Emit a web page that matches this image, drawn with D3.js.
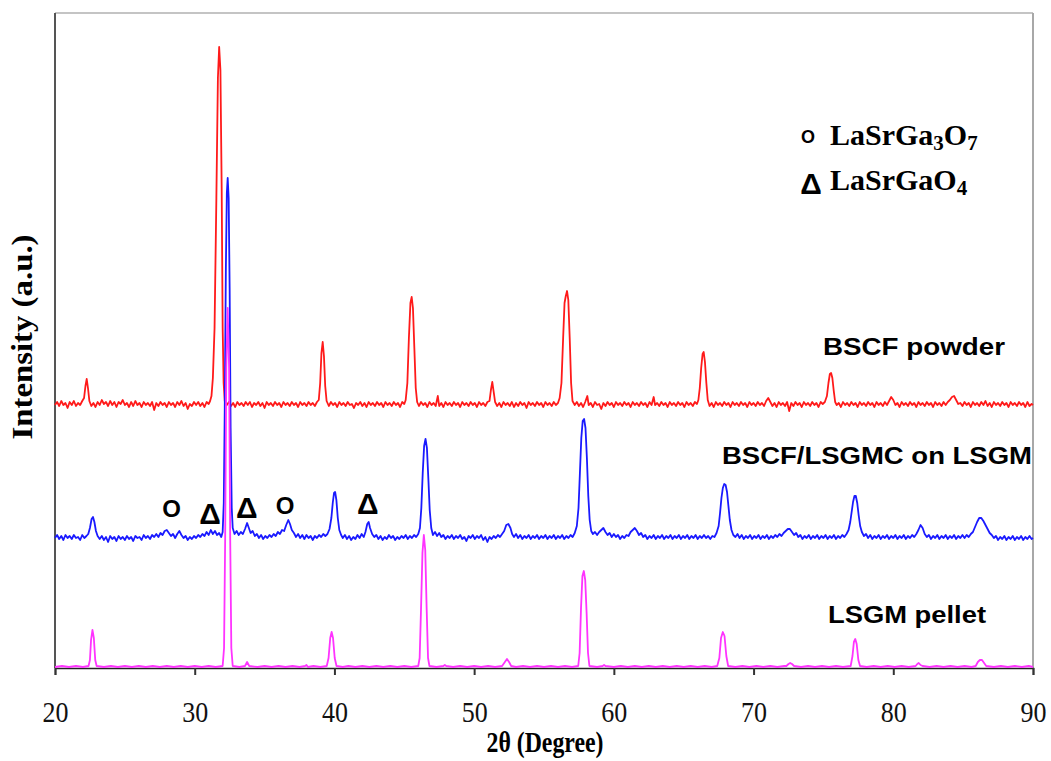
<!DOCTYPE html>
<html>
<head>
<meta charset="utf-8">
<script src="https://cdn.jsdelivr.net/npm/d3@7"></script>
<style>
  body { margin: 0; background: #fff; }
  svg { display: block; }
</style>
</head>
<body>
<svg id="chart" width="1051" height="761"></svg>
<script>
// ---------------- DATA (2θ in degrees, intensity in arbitrary units, offset traces) ----------------
const xTicks = [20, 30, 40, 50, 60, 70, 80, 90];
const xTitle = "2θ (Degree)";
const yTitle = "Intensity (a.u.)";
const seriesNames = ["BSCF powder", "BSCF/LSGMC on LSGM", "LSGM pellet"];

// BSCF powder (top trace)
const bscfPowder = [
[20.0,263],[20.15,266],[20.3,262],[20.45,267],[20.6,263],[20.75,265],[20.9,260],[21.05,266],[21.2,263],[21.35,267],[21.5,262],[21.65,265],[21.8,263],[21.95,267],
[22.08,270],[22.18,282],[22.27,289],[22.36,280],[22.46,267],
[22.6,262],[22.75,265],[22.9,261],[23.05,266],[23.2,263],[23.35,268],[23.5,264],[23.65,266],[23.8,262],[23.95,267],[24.1,263],[24.25,266],[24.4,261],[24.55,266],[24.7,264],[24.85,268],[25.0,263],[25.15,265],[25.3,261],[25.45,266],[25.6,262],[25.75,267],[25.9,263],[26.05,265],[26.2,261],[26.35,266],[26.5,263],[26.65,265],[26.8,262],[26.95,266],[27.1,258],[27.25,265],[27.4,262],[27.55,266],[27.7,263],[27.85,265],[28.0,261],[28.15,266],[28.3,263],[28.45,265],[28.6,261],[28.75,266],[28.9,263],[29.05,267],[29.2,262],[29.35,265],[29.5,259],[29.65,264],[29.8,262],[29.95,266],[30.1,263],[30.25,266],[30.4,262],[30.55,265],[30.7,261],[30.85,266],[31.0,264],[31.1,267],
[31.2,272],[31.3,290],[31.42,340],[31.55,470],[31.66,590],[31.75,621],[31.84,598],[31.93,480],[32.0,340],[32.07,285],[32.15,267],
[32.3,263],[32.45,266],[32.6,262],[32.75,265],[32.9,261],[33.05,266],[33.2,263],[33.35,265],[33.5,262],[33.65,266],[33.8,263],[33.95,266],[34.1,261],[34.25,265],[34.4,263],[34.55,266],[34.7,262],[34.85,265],[35.0,260],[35.15,266],[35.3,263],[35.45,265],[35.6,262],[35.75,266],[35.9,263],[36.05,265],[36.2,261],[36.35,266],[36.5,263],[36.65,265],[36.8,262],[36.95,266],[37.1,263],[37.25,265],[37.4,261],[37.55,266],[37.7,263],[37.85,265],[38.0,262],[38.15,266],[38.3,263],[38.45,265],[38.6,262],[38.75,266],
[38.88,268],[38.98,285],[39.07,315],[39.16,326],[39.25,312],[39.34,282],[39.44,267],
[39.6,262],[39.75,266],[39.9,263],[40.05,265],[40.2,261],[40.35,266],[40.5,263],[40.65,265],[40.8,262],[40.95,266],[41.1,263],[41.25,264],[41.4,260],[41.55,265],[41.7,263],[41.85,266],[42.0,262],[42.15,265],[42.3,261],[42.45,266],[42.6,263],[42.75,265],[42.9,262],[43.05,266],[43.2,263],[43.35,265],[43.5,261],[43.65,266],[43.8,263],[43.95,265],[44.1,262],[44.25,266],[44.4,263],[44.55,265],[44.7,261],[44.85,266],[45.0,264],[45.1,268],
[45.22,285],[45.33,330],[45.44,365],[45.53,371],[45.62,360],[45.72,320],[45.82,280],[45.92,266],
[46.05,262],[46.2,266],[46.35,263],[46.5,265],[46.65,261],[46.8,266],[46.95,263],[47.1,265],[47.25,262],[47.4,272],[47.5,262],[47.65,265],[47.8,261],[47.95,266],[48.1,263],[48.25,265],[48.4,262],[48.55,266],[48.7,263],[48.85,265],[49.0,261],[49.15,266],[49.3,263],[49.45,265],[49.6,262],[49.75,266],[49.9,263],[50.05,265],[50.2,261],[50.35,266],[50.5,263],[50.65,265],[50.8,262],[50.95,266],
[51.1,267],[51.2,278],[51.3,286],[51.4,276],[51.5,266],
[51.65,262],[51.8,265],[51.95,261],[52.1,266],[52.25,263],[52.4,265],[52.55,262],[52.7,266],[52.85,261],[53.0,265],[53.15,262],[53.3,266],[53.45,263],[53.6,265],[53.75,260],[53.9,266],[54.05,263],[54.2,265],[54.35,262],[54.5,266],[54.65,263],[54.8,265],[54.95,261],[55.1,266],[55.25,263],[55.4,265],[55.55,262],[55.7,266],[55.85,263],[56.0,265],[56.12,270],
[56.25,285],[56.37,330],[56.47,365],[56.56,372],[56.65,377],[56.74,368],[56.84,330],[56.94,285],[57.04,267],
[57.2,263],[57.35,266],[57.5,262],[57.65,265],[57.8,261],[57.95,266],[58.1,272],[58.2,263],[58.35,265],[58.5,261],[58.65,266],[58.8,263],[58.95,264],[59.1,259],[59.25,265],[59.4,262],[59.55,266],[59.7,263],[59.85,265],[60.0,261],[60.15,266],[60.3,263],[60.45,265],[60.6,262],[60.75,266],[60.9,263],[61.05,265],[61.2,261],[61.35,266],[61.5,263],[61.65,265],[61.8,262],[61.95,266],[62.1,263],[62.25,265],[62.4,261],[62.55,266],[62.7,263],[62.85,271],[62.95,263],[63.1,265],[63.25,262],[63.4,266],[63.55,263],[63.7,265],[63.85,261],[64.0,266],[64.15,263],[64.3,265],[64.45,262],[64.6,266],[64.75,263],[64.9,265],[65.05,261],[65.2,266],[65.35,263],[65.5,265],[65.65,262],[65.8,266],[65.95,264],[66.05,268],
[66.15,280],[66.25,300],[66.35,314],[66.43,316],[66.52,306],[66.62,285],[66.72,268],
[66.85,262],[67.0,265],[67.15,261],[67.3,266],[67.45,263],[67.6,265],[67.75,262],[67.9,266],[68.05,263],[68.2,265],[68.35,261],[68.5,266],[68.65,263],[68.8,265],[68.95,262],[69.1,266],[69.25,263],[69.4,265],[69.55,261],[69.7,266],[69.85,263],[70.0,265],[70.15,262],[70.3,266],[70.45,263],[70.6,265],[70.75,262],[70.9,267],[71.05,270],[71.2,266],[71.35,262],[71.5,265],[71.65,261],[71.8,266],[71.95,263],[72.1,265],[72.25,262],[72.4,266],[72.55,257],[72.7,265],[72.85,262],[73.0,266],[73.15,263],[73.3,265],[73.45,261],[73.6,266],[73.75,263],[73.9,265],[74.05,262],[74.2,266],[74.35,263],[74.5,265],[74.65,261],[74.8,266],[74.95,264],[75.1,266],
[75.25,272],[75.36,285],[75.46,294],[75.55,295],[75.64,290],[75.74,277],[75.84,266],
[75.95,263],[76.1,265],[76.25,261],[76.4,266],[76.55,263],[76.7,265],[76.85,262],[77.0,266],[77.15,263],[77.3,265],[77.45,261],[77.6,266],[77.75,263],[77.9,265],[78.05,262],[78.2,266],[78.35,263],[78.5,265],[78.65,261],[78.8,266],[78.95,263],[79.1,265],[79.25,262],[79.4,266],[79.55,263],[79.7,267],[79.85,271],[80.0,268],[80.15,263],[80.3,265],[80.45,261],[80.6,266],[80.75,263],[80.9,265],[81.05,262],[81.2,266],[81.35,263],[81.5,265],[81.65,261],[81.8,266],[81.95,263],[82.1,265],[82.25,262],[82.4,266],[82.55,263],[82.7,265],[82.85,261],[83.0,266],[83.15,263],[83.3,265],[83.45,262],[83.6,266],[83.75,263],[83.9,266],[84.05,268],[84.2,271],[84.35,272],[84.5,268],[84.65,264],[84.8,265],[84.95,262],[85.1,266],[85.25,263],[85.4,265],[85.55,261],[85.7,266],[85.85,263],[86.0,265],[86.15,262],[86.3,266],[86.45,263],[86.6,267],[86.75,262],[86.9,265],[87.05,261],[87.2,266],[87.35,263],[87.5,265],[87.65,262],[87.8,266],[87.95,263],[88.1,265],[88.25,261],[88.4,266],[88.55,263],[88.7,265],[88.85,262],[89.0,266],[89.15,263],[89.3,265],[89.45,261],[89.6,266],[89.75,262],[89.9,264],[90.0,263]
];

// BSCF/LSGMC on LSGM (middle trace)
const bscfOnLsgm = [
[20.0,130],[20.15,133],[20.3,129],[20.45,132],[20.6,128],[20.75,133],[20.9,130],[21.05,132],[21.2,129],[21.35,133],[21.5,130],[21.65,131],[21.8,128],[21.95,133],[22.1,130],[22.25,132],[22.38,134],
[22.5,140],[22.62,149],[22.72,151],[22.82,146],[22.93,137],[23.05,132],
[23.2,129],[23.35,132],[23.5,128],[23.65,131],[23.8,126],[23.95,132],[24.1,129],[24.25,131],[24.4,127],[24.55,132],[24.7,129],[24.85,131],[25.0,128],[25.15,132],[25.3,129],[25.45,131],[25.6,127],[25.75,132],[25.9,130],[26.05,131],[26.2,128],[26.35,133],[26.5,130],[26.65,132],[26.8,129],[26.95,133],[27.1,131],[27.25,134],[27.4,131],[27.55,135],[27.7,133],[27.85,137],[28.0,138],[28.15,135],[28.3,132],[28.45,134],[28.6,130],[28.75,134],[28.9,137],[29.05,133],[29.2,130],[29.35,132],[29.5,128],[29.65,131],[29.8,129],[29.95,132],[30.1,130],[30.25,133],[30.4,131],[30.55,134],[30.7,132],[30.85,136],[31.0,133],[31.15,138],[31.3,134],[31.45,137],[31.6,133],[31.75,135],[31.9,131],[32.0,136],
[32.08,165],[32.15,260],[32.23,400],[32.3,475],[32.36,490],[32.43,470],[32.5,380],[32.57,240],[32.65,160],[32.72,140],
[32.85,134],[33.0,137],[33.15,133],[33.3,136],[33.45,134],[33.6,139],[33.75,145],[33.85,141],[34.0,135],[34.15,137],[34.3,132],[34.45,134],[34.6,130],[34.75,133],[34.9,129],[35.05,132],[35.2,130],[35.35,133],[35.5,131],[35.65,134],[35.8,132],[35.95,136],[36.1,134],[36.25,138],[36.4,137],[36.55,143],[36.7,148],[36.82,144],[36.95,138],[37.1,135],[37.25,131],[37.4,134],[37.55,130],[37.7,133],[37.85,129],[38.0,133],[38.15,130],[38.3,132],[38.45,128],[38.6,132],[38.75,130],[38.9,133],[39.05,131],[39.2,134],[39.35,132],[39.5,134],[39.65,139],
[39.78,150],[39.88,165],[39.97,175],[40.05,176],[40.14,168],[40.24,150],[40.35,138],[40.48,133],
[40.6,130],[40.75,133],[40.9,129],[41.05,132],[41.2,128],[41.35,131],[41.5,129],[41.65,133],[41.8,130],[41.95,134],[42.1,131],[42.22,136],[42.35,144],[42.45,146],[42.55,140],[42.7,134],[42.85,131],[43.0,133],[43.15,129],[43.3,132],[43.45,128],[43.6,131],[43.75,129],[43.9,133],[44.05,130],[44.2,132],[44.35,128],[44.5,131],[44.65,129],[44.8,132],[44.95,130],[45.1,133],[45.25,129],[45.4,132],[45.55,130],[45.7,133],[45.85,131],[46.0,134],[46.12,140],
[46.22,160],[46.32,195],[46.42,222],[46.52,229],[46.62,220],[46.72,190],[46.82,158],[46.93,140],[47.05,133],
[47.2,136],[47.35,132],[47.5,135],[47.65,131],[47.8,133],[47.95,129],[48.1,132],[48.25,130],[48.4,133],[48.55,129],[48.7,132],[48.85,130],[49.0,133],[49.15,129],[49.3,131],[49.45,127],[49.6,132],[49.75,130],[49.9,133],[50.05,129],[50.2,132],[50.35,130],[50.5,133],[50.65,128],[50.8,131],[50.95,126],[51.1,131],[51.25,129],[51.4,132],[51.55,130],[51.7,133],[51.85,131],[52.0,134],[52.15,137],[52.3,143],[52.45,144],[52.6,140],[52.72,134],[52.85,131],[53.0,134],[53.15,130],[53.3,133],[53.45,129],[53.6,132],[53.75,130],[53.9,133],[54.05,129],[54.2,132],[54.35,130],[54.5,133],[54.65,129],[54.8,132],[54.95,130],[55.1,133],[55.25,129],[55.4,132],[55.55,130],[55.7,133],[55.85,129],[56.0,132],[56.15,130],[56.3,133],[56.45,129],[56.6,132],[56.75,130],[56.9,133],[57.05,131],[57.2,135],[57.35,142],
[57.47,160],[57.57,195],[57.67,230],[57.77,247],[57.87,249],[57.97,240],[58.07,210],[58.17,172],[58.27,148],[58.38,137],
[58.5,134],[58.65,136],[58.8,133],[58.95,136],[59.1,138],[59.25,140],[59.4,136],[59.55,133],[59.7,135],[59.85,131],[60.0,134],[60.15,131],[60.3,133],[60.45,129],[60.6,132],[60.75,130],[60.9,133],[61.05,132],[61.2,136],[61.35,138],[61.5,140],[61.65,137],[61.8,133],[61.95,135],[62.1,131],[62.25,133],[62.4,129],[62.55,132],[62.7,130],[62.85,133],[63.0,129],[63.15,132],[63.3,130],[63.45,133],[63.6,129],[63.75,132],[63.9,130],[64.05,133],[64.2,129],[64.35,132],[64.5,130],[64.65,133],[64.8,129],[64.95,132],[65.1,130],[65.25,133],[65.4,129],[65.55,132],[65.7,130],[65.85,133],[66.0,129],[66.15,132],[66.3,130],[66.45,133],[66.6,130],[66.75,132],[66.9,129],[67.05,132],[67.2,131],[67.35,135],[67.5,142],
[67.6,155],[67.7,170],[67.8,180],[67.9,184],[68.0,183],[68.1,176],[68.2,162],[68.3,148],[68.42,138],[68.55,133],
[68.7,131],[68.85,134],[69.0,130],[69.15,133],[69.3,129],[69.45,132],[69.6,130],[69.75,133],[69.9,129],[70.05,132],[70.2,130],[70.35,133],[70.5,129],[70.65,132],[70.8,130],[70.95,133],[71.1,129],[71.25,132],[71.4,130],[71.55,133],[71.7,131],[71.85,134],[72.0,132],[72.15,135],[72.3,137],[72.45,139],[72.6,139],[72.75,136],[72.9,133],[73.05,135],[73.2,131],[73.35,133],[73.5,129],[73.65,132],[73.8,130],[73.95,133],[74.1,129],[74.25,132],[74.4,130],[74.55,133],[74.7,129],[74.85,132],[75.0,130],[75.15,133],[75.3,129],[75.45,132],[75.6,130],[75.75,133],[75.9,129],[76.05,132],[76.2,130],[76.35,133],[76.5,131],[76.65,134],[76.8,138],[76.92,146],
[77.02,156],[77.12,166],[77.22,172],[77.32,172],[77.42,165],[77.52,153],[77.63,142],[77.75,136],
[77.9,132],[78.05,134],[78.2,130],[78.35,133],[78.5,129],[78.65,132],[78.8,130],[78.95,133],[79.1,129],[79.25,132],[79.4,130],[79.55,133],[79.7,129],[79.85,132],[80.0,130],[80.15,133],[80.3,129],[80.45,132],[80.6,130],[80.75,133],[80.9,129],[81.05,132],[81.2,130],[81.35,133],[81.5,131],[81.65,134],[81.8,138],[81.95,143],[82.1,140],[82.25,134],[82.4,131],[82.55,133],[82.7,129],[82.85,132],[83.0,130],[83.15,133],[83.3,129],[83.45,132],[83.6,130],[83.75,133],[83.9,129],[84.05,132],[84.2,130],[84.35,133],[84.5,129],[84.65,132],[84.8,130],[84.95,133],[85.1,130],[85.25,133],[85.4,131],[85.55,134],[85.7,136],[85.85,141],[86.0,146],[86.15,150],[86.3,150],[86.45,147],[86.6,143],[86.75,139],[86.9,135],[87.05,133],[87.2,130],[87.35,132],[87.5,128],[87.65,131],[87.8,129],[87.95,132],[88.1,128],[88.25,131],[88.4,129],[88.55,132],[88.7,128],[88.85,131],[89.0,129],[89.15,132],[89.3,128],[89.45,131],[89.6,129],[89.75,132],[89.9,129],[90.0,130]
];

// LSGM pellet (bottom trace)
const lsgmPellet = [
[20.0,1],[20.5,2],[21.0,1],[21.5,2],[22.0,1],[22.4,2],[22.5,8],[22.58,28],[22.68,38],[22.78,30],[22.88,8],[22.98,2],[23.5,1],[24.0,2],[24.5,1],[25.0,2],[25.5,1],[26.0,2],[26.5,1],[27.0,2],[27.5,1],[28.0,2],[28.5,1],[29.0,2],[29.5,1],[30.0,2],[30.5,1],[31.0,2],[31.5,1],[32.0,2],
[32.1,20],[32.18,130],[32.26,300],[32.36,360],[32.46,300],[32.54,130],[32.62,20],[32.72,2],
[33.2,1],[33.6,2],[33.75,6],[33.9,2],[34.5,1],[35.0,2],[35.5,1],[36.0,2],[36.5,1],[37.0,2],[37.5,1],[37.9,2],[38.0,3],[38.1,1],[38.5,2],[39.0,1],[39.45,2],[39.58,10],[39.7,30],[39.8,36],[39.9,30],[40.02,10],[40.15,2],[40.6,1],[41.0,2],[41.5,1],[42.0,2],[42.5,1],[43.0,2],[43.5,1],[44.0,2],[44.5,1],[45.0,2],[45.5,1],[46.0,2],
[46.1,10],[46.2,60],[46.3,115],[46.4,133],[46.5,118],[46.6,60],[46.7,10],[46.8,2],
[47.3,1],[47.8,2],[47.9,3],[48.0,2],[48.5,1],[49.0,2],[49.5,1],[50.0,2],[50.5,1],[51.0,2],[51.5,1],[52.0,2],[52.2,6],[52.35,9],[52.5,6],[52.65,2],[53.0,1],[53.5,2],[54.0,1],[54.5,2],[55.0,1],[55.5,2],[56.0,1],[56.5,2],[57.0,1],[57.45,2],
[57.55,15],[57.65,60],[57.75,92],[57.85,97],[57.95,88],[58.05,55],[58.15,15],[58.25,2],
[58.8,1],[59.2,2],[59.3,3],[59.4,2],[60.0,1],[60.5,2],[61.0,1],[61.5,2],[62.0,1],[62.5,2],[63.0,1],[63.5,2],[64.0,1],[64.5,2],[65.0,1],[65.5,2],[66.0,1],[66.5,2],[67.0,1],[67.4,2],
[67.55,10],[67.67,30],[67.8,36],[67.92,32],[68.05,12],[68.18,2],
[68.7,1],[69.2,2],[69.7,1],[70.2,2],[70.7,1],[71.2,2],[71.7,1],[72.2,2],[72.35,2],[72.5,4],[72.62,5],[72.75,4],[72.9,2],[73.4,1],[73.9,2],[74.4,1],[74.9,2],[75.4,1],[75.9,2],[76.4,1],[76.95,2],
[77.08,12],[77.18,26],[77.28,29],[77.38,24],[77.5,8],[77.62,2],
[78.1,1],[78.6,2],[79.1,1],[79.6,2],[80.1,1],[80.6,2],[81.1,1],[81.6,2],[81.72,4],[81.82,5],[81.95,3],[82.1,2],[82.6,1],[83.1,2],[83.6,1],[84.1,2],[84.6,1],[85.1,2],[85.6,1],[85.9,2],[86.05,6],[86.2,8],[86.35,8],[86.5,5],[86.65,2],[87.2,1],[87.7,2],[88.2,1],[88.7,2],[89.2,1],[89.7,2],[90.0,1]
];

// Phase markers over the middle trace: symbol, 2θ, intensity
const phaseMarkSymbols = ["O", "Δ", "Δ", "O", "Δ"];
const phaseMarkTheta   = [28.35, 31.1, 33.72, 36.46, 42.38];
const phaseMarkLevel   = [160, 155, 161, 163, 165];

// Legend entries
const legendSymbols = ["O", "Δ"];

// ---------------- DRAWING ----------------
const svg = d3.select("#chart");
const plot = { left: 55, right: 1033, top: 13, bottom: 668 };

const x = d3.scaleLinear().domain([20, 90]).range([plot.left, plot.right]);
const y = d3.scaleLinear().domain([0, 655]).range([plot.bottom, plot.top]);

const sans = "'Liberation Sans', Arial, sans-serif";
const serif = "'Liberation Serif', 'Times New Roman', serif";

// Frame (top and right light gray, left dark)
svg.append("line").attr("x1", plot.left).attr("x2", plot.right).attr("y1", plot.top).attr("y2", plot.top)
  .attr("stroke", "#c4c4c4").attr("stroke-width", 2);
svg.append("line").attr("x1", plot.right).attr("x2", plot.right).attr("y1", plot.top).attr("y2", plot.bottom)
  .attr("stroke", "#a8a8a8").attr("stroke-width", 2);
svg.append("line").attr("x1", plot.left).attr("x2", plot.left).attr("y1", plot.top).attr("y2", plot.bottom)
  .attr("stroke", "#555").attr("stroke-width", 2);

// X axis
const xAxis = d3.axisBottom(x).tickValues(xTicks).tickFormat(d3.format("d")).tickSize(7).tickPadding(26);
const gx = svg.append("g").attr("transform", `translate(0,${plot.bottom})`).call(xAxis);
gx.attr("font-size", null).attr("font-family", null);
gx.select(".domain").attr("stroke", "#222").attr("stroke-width", 1.6);
gx.selectAll(".tick line").attr("stroke", "#333").attr("stroke-width", 2);
gx.selectAll(".tick text")
  .style("font-family", serif)
  .style("font-size", "30px").attr("fill", "#111")
  .attr("textLength", 26).attr("lengthAdjust", "spacingAndGlyphs");

// Traces
const line = d3.line().x(d => x(d[0])).y(d => y(d[1]));
const traces = [
  { data: bscfPowder, color: "#ff1a1a" },
  { data: bscfOnLsgm, color: "#1a1aff" },
  { data: lsgmPellet, color: "#ff33ff" }
];
traces.forEach(t => {
  svg.append("path").datum(t.data)
    .attr("d", line).attr("fill", "none")
    .attr("stroke", t.color).attr("stroke-width", 1.8)
    .attr("stroke-linejoin", "round");
});

// Series labels
const labelPos = [
  { x: 823, y: 355, w: 182 },
  { x: 722, y: 464, w: 310 },
  { x: 828, y: 623, w: 158 }
];
seriesNames.forEach((name, i) => {
  svg.append("text").attr("x", labelPos[i].x).attr("y", labelPos[i].y)
    .style("font-family", sans).style("font-weight", "bold").style("font-size", "24px")
    .attr("textLength", labelPos[i].w).attr("lengthAdjust", "spacingAndGlyphs")
    .attr("fill", "#000").text(name);
});

// Phase markers
phaseMarkSymbols.forEach((s, i) => {
  svg.append("text")
    .attr("x", x(phaseMarkTheta[i])).attr("y", y(phaseMarkLevel[i]))
    .attr("text-anchor", "middle").attr("dominant-baseline", "central")
    .style("font-family", sans).style("font-weight", "bold")
    .style("font-size", s === "O" ? "24px" : "30px")
    .attr("fill", "#000").text(s);
});

// Legend
svg.append("text").attr("x", 808).attr("y", 137)
  .attr("text-anchor", "middle").attr("dominant-baseline", "central")
  .style("font-family", sans).style("font-weight", "bold").style("font-size", "18px").text(legendSymbols[0]);
svg.append("text").attr("x", 811).attr("y", 183)
  .attr("text-anchor", "middle").attr("dominant-baseline", "central")
  .style("font-family", sans).style("font-weight", "bold").style("font-size", "30px").text(legendSymbols[1]);

function formula(yBase, parts) {
  const t = svg.append("text").attr("x", 830).attr("y", yBase)
    .style("font-family", serif).style("font-weight", "bold").style("font-size", "30px");
  parts.forEach(p => {
    if (p.sub) t.append("tspan").style("font-size", "21px").attr("dy", 5).text(p.t);
    else t.append("tspan").attr("dy", p.back ? -5 : 0).text(p.t);
  });
}
formula(145, [{ t: "LaSrGa" }, { t: "3", sub: true }, { t: "O", back: true }, { t: "7", sub: true }]);
formula(190, [{ t: "LaSrGaO" }, { t: "4", sub: true }]);

// Axis titles
svg.append("text").attr("x", 545).attr("y", 752)
  .attr("text-anchor", "middle")
  .style("font-family", serif).style("font-weight", "bold").style("font-size", "30px")
  .attr("textLength", 117).attr("lengthAdjust", "spacingAndGlyphs")
  .text(xTitle);
svg.append("text")
  .attr("transform", "translate(32,337) rotate(-90)")
  .attr("text-anchor", "middle")
  .style("font-family", serif).style("font-weight", "bold").style("font-size", "29px")
  .attr("textLength", 205).attr("lengthAdjust", "spacingAndGlyphs")
  .text(yTitle);
</script>
</body>
</html>
